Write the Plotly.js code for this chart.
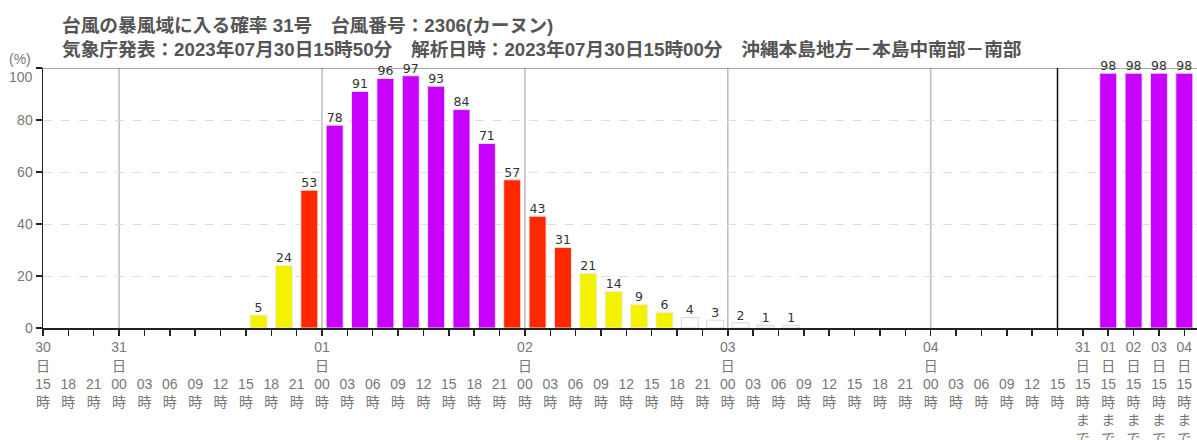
<!DOCTYPE html>
<html>
<head>
<meta charset="utf-8">
<script src="https://cdn.plot.ly/plotly-3.0.1.min.js"></script>
<style>html,body{margin:0;padding:0;background:#fff;}#chart{width:1197px;height:440px;}</style>
</head>
<body>
<div id="chart"></div>
<script>
// ---- data ----
const titleLine1 = '台風の暴風域に入る確率 31号　台風番号：2306(カーヌン)';
const titleLine2 = '気象庁発表：2023年07月30日15時50分　解析日時：2023年07月30日15時00分　沖縄本島地方－本島中南部－南部';

// tick hours from 30日15時 to 04日15時 (every 3 hours)
const hourLabels = ['15','18','21',
  '00','03','06','09','12','15','18','21',
  '00','03','06','09','12','15','18','21',
  '00','03','06','09','12','15','18','21',
  '00','03','06','09','12','15','18','21',
  '00','03','06','09','12','15'];
// day label at tick index
const dayMarks = [[0,'30'],[3,'31'],[11,'01'],[19,'02'],[27,'03'],[35,'04']];

// probability for each 3-hour period (period k lies between tick k and k+1)
const periodValues = [null,null,null,null,null,null,null,null,
  5,24,53,78,91,96,97,93,84,71,57,43,31,21,14,9,6,4,3,2,1,1,
  null,null,null,null,null,null,null,null,null,null];

// cumulative "until" categories
const untilDays = ['31','01','02','03','04'];
const untilValues = [null,98,98,98,98];

const yTicks = [0,20,40,60,80,100];

// ---- build ----
const nTicks = hourLabels.length;
const dayAt = {};
dayMarks.forEach(d => dayAt[d[0]] = d[1]);
const tickvals = [], ticktext = [];
for (let i = 0; i < nTicks; i++) {
  tickvals.push(i);
  if (dayAt[i] !== undefined) ticktext.push(dayAt[i] + '<br>日<br>' + hourLabels[i] + '<br>時');
  else ticktext.push('\u00a0<br>\u00a0<br>' + hourLabels[i] + '<br>時');
}
untilDays.forEach((d, j) => {
  tickvals.push(nTicks + j);
  ticktext.push(d + '<br>日<br>15<br>時<br>ま<br>で');
});

function colorFor(v) {
  if (v < 5) return '#ffffff';
  if (v < 30) return '#f5f200';
  if (v < 60) return '#ff2800';
  return '#c800ff';
}

const bx = [], by = [], bc = [], bl = [];
periodValues.forEach((v, k) => {
  if (v === null) return;
  bx.push(k + 0.5); by.push(v); bc.push(colorFor(v)); bl.push(v < 5 ? '#d8d8d8' : 'rgba(235,235,235,0.9)');
});
untilValues.forEach((v, j) => {
  if (v === null) return;
  bx.push(nTicks + j); by.push(v); bc.push(colorFor(v)); bl.push('rgba(235,235,235,0.9)');
});

const bars = {
  type: 'bar', x: bx, y: by, width: 0.67,
  marker: {color: bc, line: {color: bl, width: 1}},
  hoverinfo: 'none', showlegend: false
};
const labels = {
  type: 'scatter', mode: 'text', x: bx, y: by, text: by.map(String),
  textposition: 'top center', cliponaxis: false,
  textfont: {family: 'DejaVu Sans', size: 12.5, color: '#333'},
  hoverinfo: 'none', showlegend: false
};

const xMax = nTicks + untilDays.length - 0.5;
const shapes = [];
dayMarks.forEach(d => {
  if (d[0] === 0) return;
  shapes.push({type: 'line', xref: 'x', yref: 'y', x0: d[0], x1: d[0], y0: 0, y1: 100,
    line: {color: '#bbbbbb', width: 1.5}, layer: 'below'});
});
shapes.push({type: 'line', xref: 'x', yref: 'y', x0: nTicks - 1, x1: nTicks - 1, y0: 0, y1: 100,
  line: {color: '#111', width: 1.5}, layer: 'above'});
shapes.push({type: 'line', xref: 'x', yref: 'y', x0: 0, x1: xMax, y0: 100, y1: 100,
  line: {color: '#555', width: 1}, layer: 'below'});

const topTick = yTicks[yTicks.length - 1];
const layout = {
  width: 1197, height: 440,
  margin: {l: 43, r: 0, t: 68, b: 112, pad: 0},
  paper_bgcolor: '#fff', plot_bgcolor: '#fff',
  font: {family: 'Liberation Sans, Noto Sans CJK JP, sans-serif', color: '#777'},
  title: {
    text: '<b>' + titleLine1 + '</b><br><b>' + titleLine2 + '</b>',
    font: {family: 'Liberation Sans, Noto Sans CJK JP, sans-serif', size: 18.7, color: '#555'},
    xref: 'container', yref: 'container', x: 62/1197, xanchor: 'left', y: 1 - 32/440, yanchor: 'top'
  },
  xaxis: {
    range: [0, xMax], tickvals: tickvals, ticktext: ticktext, tickangle: 0,
    ticks: 'outside', ticklen: 6, tickwidth: 1.5, tickcolor: '#222',
    showline: true, linecolor: '#222', linewidth: 1.5,
    showgrid: false, zeroline: false, automargin: false, fixedrange: true,
    tickfont: {size: 14, color: '#777'}
  },
  yaxis: {
    range: [0, 100], tickvals: yTicks,
    ticktext: yTicks.map(v => v === topTick ? '' : String(v)),
    ticks: 'outside', ticklen: 6, tickwidth: 1.5, tickcolor: '#222',
    showline: true, linecolor: '#222', linewidth: 1.5,
    showgrid: true, gridcolor: '#dddddd', griddash: 'dash', gridwidth: 1,
    zeroline: false, automargin: false, fixedrange: true,
    tickfont: {size: 14, color: '#777'}
  },
  shapes: shapes,
  annotations: [{
    text: '(%)', xref: 'paper', yref: 'paper', x: 0, y: 1, xanchor: 'right', yanchor: 'bottom',
    xshift: -10, yshift: -1, showarrow: false, font: {size: 14, color: '#777'}
  }, {
    text: String(topTick), xref: 'paper', yref: 'y', x: 0, y: topTick, xanchor: 'right', yanchor: 'middle',
    xshift: -8, yshift: -9, showarrow: false, font: {size: 14, color: '#777'}
  }],
  bargap: 0
};

Plotly.newPlot('chart', [bars, labels], layout, {displayModeBar: false, staticPlot: true});
</script>
</body>
</html>
